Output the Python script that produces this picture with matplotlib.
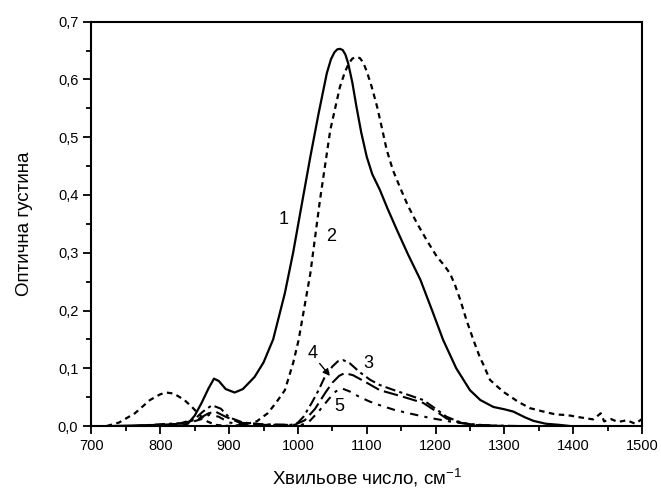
import numpy as np
import matplotlib
matplotlib.use('Agg')
import matplotlib.pyplot as plt
from matplotlib.ticker import MultipleLocator, FuncFormatter

plt.rcParams['font.family'] = ['Liberation Sans', 'DejaVu Sans']

# криві 1-5: хвильове число (см-1) та оптична густина
wn1 = [730, 800, 830, 840, 850, 860, 870, 878, 885, 895, 908, 920, 937, 950, 964, 981, 993,
       1005, 1018, 1030, 1042, 1048, 1053, 1057, 1061, 1065, 1069, 1073, 1079, 1085, 1092,
       1100, 1108, 1119, 1130, 1144, 1160, 1178, 1195, 1211, 1230, 1250, 1265, 1284, 1300,
       1313, 1330, 1342, 1360, 1380, 1395]
od1 = [0.0, 0.002, 0.0, 0.004, 0.018, 0.04, 0.065, 0.082, 0.078, 0.064, 0.058, 0.064, 0.085,
       0.11, 0.15, 0.23, 0.30, 0.38, 0.466, 0.541, 0.611, 0.635, 0.647, 0.652, 0.653, 0.651,
       0.643, 0.628, 0.595, 0.553, 0.508, 0.466, 0.436, 0.409, 0.377, 0.339, 0.297, 0.253,
       0.2, 0.149, 0.10, 0.062, 0.045, 0.033, 0.029, 0.025, 0.015, 0.009, 0.004, 0.002, 0.0]

wn2 = [722, 740, 763, 785, 800, 809, 820, 835, 846, 858, 869, 880, 900, 920, 940, 956, 968,
       981, 993, 1001, 1018, 1032, 1047, 1061, 1068, 1074, 1079, 1084, 1090, 1095, 1100,
       1107, 1115, 1122, 1129, 1138, 1148, 1160, 1173, 1188, 1202, 1212, 1221, 1228, 1236,
       1245, 1255, 1264, 1270, 1279, 1290, 1300, 1320, 1337, 1360, 1375, 1391, 1410, 1429,
       1440, 1445, 1455, 1465, 1478, 1490, 1500]
od2 = [0.0, 0.006, 0.022, 0.045, 0.055, 0.058, 0.056, 0.045, 0.033, 0.018, 0.0075, 0.002,
       0.0, 0.002, 0.008, 0.022, 0.04, 0.062, 0.109, 0.149, 0.264, 0.391, 0.5125, 0.587,
       0.612, 0.628, 0.636, 0.639, 0.637, 0.629, 0.614, 0.588, 0.553, 0.516, 0.478, 0.443,
       0.414, 0.381, 0.351, 0.32, 0.293, 0.279, 0.264, 0.245, 0.218, 0.183, 0.149, 0.12,
       0.105, 0.08, 0.068, 0.058, 0.042, 0.031, 0.024, 0.02, 0.019, 0.015, 0.0115, 0.022,
       0.008, 0.012, 0.007, 0.01, 0.004, 0.012]

wn3 = [760, 800, 830, 850, 862, 875, 888, 900, 920, 950, 990, 1000, 1008, 1020, 1030, 1039,
       1050, 1058, 1066, 1075, 1090, 1105, 1119, 1140, 1160, 1182, 1200, 1216, 1235, 1250,
       1280, 1320]
od3 = [0.0, 0.003, 0.005, 0.012, 0.025, 0.036, 0.03, 0.015, 0.006, 0.003, 0.002, 0.006,
       0.016, 0.04, 0.062, 0.085, 0.103, 0.112, 0.114, 0.109, 0.093, 0.08, 0.071, 0.062,
       0.054, 0.045, 0.03, 0.016, 0.007, 0.003, 0.001, 0.0]

wn4 = [770, 830, 855, 870, 880, 895, 915, 950, 995, 1010, 1025, 1040, 1050, 1060, 1068,
       1080, 1100, 1119, 1140, 1160, 1182, 1200, 1216, 1235, 1255, 1300]
od4 = [0.0, 0.004, 0.012, 0.022, 0.025, 0.016, 0.006, 0.002, 0.002, 0.01, 0.03, 0.058,
       0.075, 0.087, 0.0916, 0.088, 0.075, 0.062, 0.055, 0.048, 0.04, 0.026, 0.013, 0.006,
       0.002, 0.0]

wn5 = [780, 840, 860, 872, 885, 900, 930, 1000, 1015, 1030, 1045, 1055, 1064, 1075, 1090,
       1105, 1119, 1140, 1165, 1192, 1220, 1250, 1290]
od5 = [0.0, 0.005, 0.012, 0.02, 0.016, 0.006, 0.002, 0.0, 0.006, 0.025, 0.047, 0.06, 0.065,
       0.06, 0.05, 0.042, 0.036, 0.028, 0.021, 0.014, 0.008, 0.003, 0.0]

fig = plt.figure(figsize=(6.61, 4.92), dpi=100)
ax = fig.add_axes([0.1384, 0.1341, 0.8329, 0.8218])

ax.plot(wn1, od1, color='black', lw=1.6)
ax.plot(wn2, od2, color='black', lw=1.6, dashes=(2.5, 2))
ax.plot(wn3, od3, color='black', lw=1.5, dashes=(5, 2, 1.5, 2))
ax.plot(wn4, od4, color='black', lw=1.5, dashes=(7, 2.5))
ax.plot(wn5, od5, color='black', lw=1.5, dashes=(4, 3, 1.5, 3))

fs = 13
ax.text(979, 0.357, '1', fontsize=fs, ha='center', va='center')
ax.text(1048, 0.328, '2', fontsize=fs, ha='center', va='center')
ax.text(1102, 0.1085, '3', fontsize=fs, ha='center', va='center')
ax.text(1022, 0.126, '4', fontsize=fs, ha='center', va='center')
ax.text(1060, 0.033, '5', fontsize=fs, ha='center', va='center')
ax.annotate('', xy=(1049, 0.083), xytext=(1029, 0.112),
            arrowprops=dict(arrowstyle='-|>', color='black', lw=1, mutation_scale=10))

ax.set_xlim(700, 1500)
ax.set_ylim(0, 0.7)
ax.xaxis.set_major_locator(MultipleLocator(100))
ax.xaxis.set_minor_locator(MultipleLocator(50))
ax.yaxis.set_major_locator(MultipleLocator(0.1))
ax.yaxis.set_minor_locator(MultipleLocator(0.05))
ax.yaxis.set_major_formatter(FuncFormatter(lambda v, p: f'{v:.1f}'.replace('.', ',')))

ax.tick_params(which='both', direction='out', top=False, right=False, width=1.3,
               labelsize=10.5)
ax.tick_params(which='major', length=6)
ax.tick_params(which='minor', length=3.5)
for s in ax.spines.values():
    s.set_linewidth(1.5)

ax.set_xlabel(r'Хвильове число, см$^{\mathregular{-1}}$', fontsize=13.5, labelpad=9)
ax.set_ylabel('Оптична густина', fontsize=13.5, labelpad=18)

fig.savefig('out.png', dpi=100)
